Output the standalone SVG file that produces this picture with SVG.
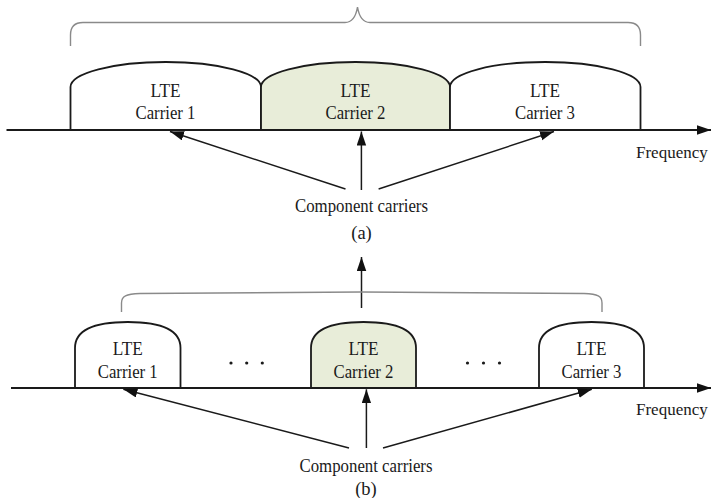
<svg xmlns="http://www.w3.org/2000/svg" width="711" height="498" viewBox="0 0 711 498">
  <style>
    .bg { fill: #ffffff; }
    .axis { stroke: #1a1a1a; stroke-width: 1.8; fill: none; }
    .carrier { stroke: #1a1a1a; stroke-width: 1.8; fill: #ffffff; }
    .carrier.primary { fill: #e8edd9; }
    .brace { stroke: #8a8a8a; stroke-width: 1.4; fill: none; }
    .link { stroke: #1a1a1a; stroke-width: 1.5; fill: none; }
    text { font-family: "Liberation Serif", "Times New Roman", serif; font-size: 18.5px; fill: #1a1a1a; }
    .c { text-anchor: middle; }
    .freq { font-size: 17px; }
    .dot { fill: #1a1a1a; }
  </style>
  <defs>
    <marker id="head" markerUnits="userSpaceOnUse" markerWidth="15" markerHeight="10" refX="14" refY="4.75" orient="auto">
      <path d="M0,0 L14,4.75 L0,9.5 Z" fill="#111111"/>
    </marker>
  </defs>

  <rect class="bg" x="0" y="0" width="711" height="498"/>

  <!-- (a) contiguous carrier aggregation -->
  <g id="panel-a">
    <path class="brace" d="M70.5,46 V35 Q70.5,22.5 83,22.5 H345 C352,22.5 356,16 357.5,7 C359,16 363,22.5 370,22.5 H628 Q640.5,22.5 640.5,35 V46"/>
    <g id="a-carrier-1">
      <path class="carrier" d="M70.5,130 V87 A95.25,25 0 0 1 261,87 V130 Z"/>
      <text class="c" x="165.5" y="97" textLength="30" lengthAdjust="spacingAndGlyphs">LTE</text>
      <text class="c" x="165.5" y="119" textLength="60" lengthAdjust="spacingAndGlyphs">Carrier 1</text>
    </g>
    <g id="a-carrier-2">
      <path class="carrier primary" d="M261,130 V87 A94.5,25 0 0 1 450,87 V130 Z"/>
      <text class="c" x="355.5" y="97" textLength="30" lengthAdjust="spacingAndGlyphs">LTE</text>
      <text class="c" x="355.5" y="119" textLength="60" lengthAdjust="spacingAndGlyphs">Carrier 2</text>
    </g>
    <g id="a-carrier-3">
      <path class="carrier" d="M450,130 V87 A95.25,25 0 0 1 640.5,87 V130 Z"/>
      <text class="c" x="545" y="97" textLength="30" lengthAdjust="spacingAndGlyphs">LTE</text>
      <text class="c" x="545" y="119" textLength="60" lengthAdjust="spacingAndGlyphs">Carrier 3</text>
    </g>
    <g id="a-axis">
      <line class="axis" x1="6.5" y1="130" x2="711" y2="130" marker-end="url(#head)"/>
      <text class="freq" x="636" y="157.5">Frequency</text>
    </g>
    <g id="a-label">
      <text class="c" x="361.5" y="211.5" textLength="133" lengthAdjust="spacingAndGlyphs">Component carriers</text>
      <text class="c" x="361.5" y="238.5">(a)</text>
    </g>
    <g id="a-connectors">
      <line class="link" x1="345.5" y1="189" x2="170" y2="131.5" marker-end="url(#head)"/>
      <line class="link" x1="361.4" y1="190" x2="361.4" y2="131.5" marker-end="url(#head)"/>
      <line class="link" x1="378.6" y1="189" x2="554" y2="131.5" marker-end="url(#head)"/>
    </g>
  </g>

  <!-- link between the two panels -->
  <g id="panel-link">
    <line class="link" x1="361.5" y1="308" x2="361.5" y2="257" marker-end="url(#head)"/>
  </g>

  <!-- (b) non-contiguous carrier aggregation -->
  <g id="panel-b">
    <path class="brace" d="M121.5,312 V303 C121.5,296 126,294 140,293.5 L361.5,292 L584,293.5 C598,294 602,296 602,303 V312"/>
    <g id="b-carrier-1">
      <path class="carrier" d="M75,388 V348 C75,330 95,322 127.75,322 C160.5,322 180.5,330 180.5,348 V388 Z"/>
      <text class="c" x="127.75" y="355" textLength="30" lengthAdjust="spacingAndGlyphs">LTE</text>
      <text class="c" x="127.75" y="377.5" textLength="60" lengthAdjust="spacingAndGlyphs">Carrier 1</text>
    </g>
    <g id="b-carrier-2">
      <path class="carrier primary" d="M311,388 V348 C311,330 331,322 363.5,322 C396,322 416,330 416,348 V388 Z"/>
      <text class="c" x="363.5" y="355" textLength="30" lengthAdjust="spacingAndGlyphs">LTE</text>
      <text class="c" x="363.5" y="377.5" textLength="60" lengthAdjust="spacingAndGlyphs">Carrier 2</text>
    </g>
    <g id="b-carrier-3">
      <path class="carrier" d="M539,388 V348 C539,330 559,322 591.5,322 C624,322 644,330 644,348 V388 Z"/>
      <text class="c" x="591.5" y="355" textLength="30" lengthAdjust="spacingAndGlyphs">LTE</text>
      <text class="c" x="591.5" y="377.5" textLength="60" lengthAdjust="spacingAndGlyphs">Carrier 3</text>
    </g>
    <g id="b-gaps">
      <circle class="dot" cx="231" cy="363" r="1.6"/>
      <circle class="dot" cx="246.7" cy="363" r="1.6"/>
      <circle class="dot" cx="262.3" cy="363" r="1.6"/>
      <circle class="dot" cx="467.5" cy="363" r="1.6"/>
      <circle class="dot" cx="483.5" cy="363" r="1.6"/>
      <circle class="dot" cx="499.5" cy="363" r="1.6"/>
    </g>
    <g id="b-axis">
      <line class="axis" x1="11" y1="388" x2="711" y2="388" marker-end="url(#head)"/>
      <text class="freq" x="636" y="415">Frequency</text>
    </g>
    <g id="b-label">
      <text class="c" x="366" y="471.5" textLength="133" lengthAdjust="spacingAndGlyphs">Component carriers</text>
      <text class="c" x="366" y="495">(b)</text>
    </g>
    <g id="b-connectors">
      <line class="link" x1="349" y1="448" x2="123.4" y2="389.3" marker-end="url(#head)"/>
      <line class="link" x1="366.4" y1="448" x2="366.4" y2="389.3" marker-end="url(#head)"/>
      <line class="link" x1="383" y1="448" x2="591.8" y2="389.3" marker-end="url(#head)"/>
    </g>
  </g>
</svg>
